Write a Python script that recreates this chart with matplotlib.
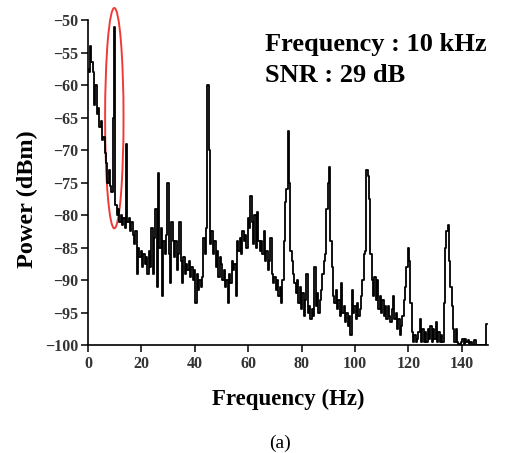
import numpy as np
import matplotlib
matplotlib.use("Agg")
import matplotlib.pyplot as plt
from matplotlib.patches import Ellipse

# spectrum, 0.5 Hz bins from 0 to 149.5 Hz
freq_step = 0.5
power = [
    # 0 - 9.5 Hz
    -57.5, -58, -54, -56.5, -58, -63, -60, -64.5, -63.5, -66.5,
    -65.5, -68.5, -68, -70.5, -72, -75, -73, -75.5, -76.5, -65,
    # 10 - 19.5 Hz
    -51, -78.5, -80, -79, -81, -80, -81.5, -80.5, -82, -69,
    -81, -80.5, -82.5, -81, -83, -84.5, -82.5, -89, -85, -86.5,
    # 20 - 29.5 Hz
    -85.5, -88, -86, -87.5, -86.5, -89, -85.5, -88, -82, -89,
    -83.5, -79, -91, -73.5, -85, -82, -92.5, -84, -86, -83,
    # 30 - 39.5 Hz
    -75, -86, -90.5, -81, -84, -86.5, -84, -88.5, -86, -81,
    -87, -90.5, -86.5, -89, -87.5, -88.5, -87, -89.5, -88, -90,
    # 40 - 49.5 Hz
    -88.5, -93.5, -89, -91.5, -90, -91, -89.5, -83.5, -86, -82,
    -60, -70, -84.5, -82.5, -86, -84, -88, -85.5, -89.5, -86.5,
    # 50 - 59.5 Hz
    -87.5, -90, -88.5, -91, -90, -93.5, -89, -90.5, -87, -88.5,
    -87.5, -92.5, -84, -85.5, -83.5, -86, -82.5, -84, -83, -85,
    # 60 - 69.5 Hz
    -80.5, -82, -77, -81, -84.5, -80, -85, -79.5, -84, -85.5,
    -84, -86, -82.5, -87, -85.5, -88.5, -87, -83.5, -89, -90.5,
    # 70 - 79.5 Hz
    -89.5, -91.5, -90, -92.5, -91, -93.5, -90, -84, -78, -76,
    -67, -75, -85.5, -87, -89, -90.5, -92, -90, -93.5, -91,
    # 80 - 89.5 Hz
    -94.5, -92, -95.5, -93, -89, -95, -94, -96, -94.5, -95.5,
    -88, -94, -92, -95, -93, -91.5, -89, -87, -86, -79,
    # 90 - 99.5 Hz
    -75, -72.6, -84, -88, -92.5, -93.5, -91.5, -94.5, -93, -95.5,
    -90.5, -95, -94, -96.5, -95, -97, -95.5, -98.5, -91.5, -95,
    # 100 - 109.5 Hz
    -94, -96, -93.5, -95.5, -94.5, -92.5, -90, -86, -85.5, -73,
    -74, -77.5, -86, -90, -92.5, -89.5, -93, -90, -94.5, -92.5,
    # 110 - 119.5 Hz
    -95, -93, -95.5, -94, -96, -94, -95.5, -96.5, -94.5, -92.5,
    -96, -95, -97.5, -96, -98.5, -97, -95.5, -93, -91, -88,
    # 120 - 129.5 Hz
    -85, -87, -93.5, -98, -99.5, -98.5, -99.5, -99, -98, -96,
    -99.5, -97.5, -99.5, -98, -99.5, -97.5, -99, -97, -99.5, -97.5,
    # 130 - 139.5 Hz
    -99, -96.5, -99.5, -98, -99.5, -98.5, -99.5, -93.5, -85, -82.5,
    -81.5, -87, -91, -94, -97.5, -99.5, -97.5, -99.5, -99.8, -100,
    # 140 - 149.5 Hz
    -99.5, -99, -99.8, -99, -99.5, -99.2, -99.8, -99.5, -100, -100,
    -99.3, -100, -100, -100, -100, -100, -100, -100, -100, -96.7,
]
freq = np.arange(len(power)) * freq_step

x_ticks = [0, 20, 40, 60, 80, 100, 120, 140]
y_ticks = [-50, -55, -60, -65, -70, -75, -80, -85, -90, -95, -100]

serif = ['Liberation Serif', 'DejaVu Serif']

fig = plt.figure(figsize=(5.05, 4.53), dpi=100)
ax = fig.add_axes([0.1743, 0.2384, 0.793, 0.7174])

ax.plot(freq, power, color='black', linewidth=1.3, drawstyle='steps-mid')

# red ring round the 10 Hz line
ring = Ellipse((9.85, -65.1), width=6.9, height=33.9, fill=False,
               edgecolor='#f03a3a', linewidth=1.4, clip_on=False)
ax.add_patch(ring)

ax.set_xlim(0, 150)
ax.set_ylim(-100, -50)
ax.set_xticks(x_ticks)
ax.set_yticks(y_ticks)

for side in ['top', 'right']:
    ax.spines[side].set_visible(False)
for side in ['left', 'bottom']:
    ax.spines[side].set_linewidth(1.2)

ax.tick_params(direction='out', length=5, width=1.1, pad=2)
ax.tick_params(axis='x', pad=3)
for lab in ax.get_xticklabels() + ax.get_yticklabels():
    lab.set_family(serif)
    lab.set_fontweight('bold')
    lab.set_fontsize(11.5)
    lab.set_color('#333333')

ax.set_xlabel('Frequency (Hz)', family=serif, fontweight='bold', fontsize=16.5, labelpad=12)
ax.set_ylabel('Power (dBm)', family=serif, fontweight='bold', fontsize=17.5)
ax.yaxis.set_label_coords(-0.125, 0.45)

fig.text(265 / 505, 1 - 51 / 453, 'Frequency : 10 kHz', family=serif,
         fontweight='bold', fontsize=19, ha='left', va='baseline')
fig.text(265 / 505, 1 - 82 / 453, 'SNR : 29 dB', family=serif,
         fontweight='bold', fontsize=19, ha='left', va='baseline')

fig.text(280 / 505, 1 - 443 / 453, '(a)', family=serif, fontsize=14,
         ha='center', va='center')

fig.savefig('out.png', dpi=100)
